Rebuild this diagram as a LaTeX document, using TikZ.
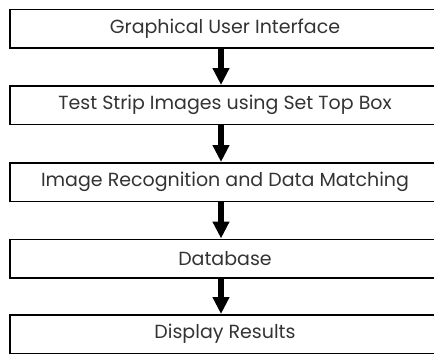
\documentclass[tikz,border=0pt]{standalone}
\usepackage{fontspec}
\setmainfont{Poppins}
\usetikzlibrary{arrows.meta}
\tikzset{
  stage/.style={draw=black, line width=1.6pt, minimum width=430pt, minimum height=38.5pt,
    inner sep=0pt, text=black!80, font=\fontsize{19}{21}\selectfont, anchor=north},
  flow/.style={line width=6pt, -{Triangle[width=16pt,length=17pt]}}
}
\begin{document}
\begin{tikzpicture}[x=1pt,y=-1pt]
\useasboundingbox (0,0) rectangle (434,354);
\clip (0,0) rectangle (434,354);
\node[stage] (b1) at (225,8.5) {Graphical User Interface};
\node[stage] (b2) at (225,85) {Test Strip Images using Set Top Box};
\node[stage] (b3) at (225,162) {Image Recognition and Data Matching};
\node[stage] (b4) at (225,238.5) {Database};
\node[stage] (b5) at (225,314) {Display Results};
\foreach \a/\b in {b1/b2,b2/b3,b3/b4,b4/b5}
  \draw[flow] ([xshift=-4pt]\a.south) -- ([xshift=-4pt]\b.north);
\end{tikzpicture}
\end{document}
